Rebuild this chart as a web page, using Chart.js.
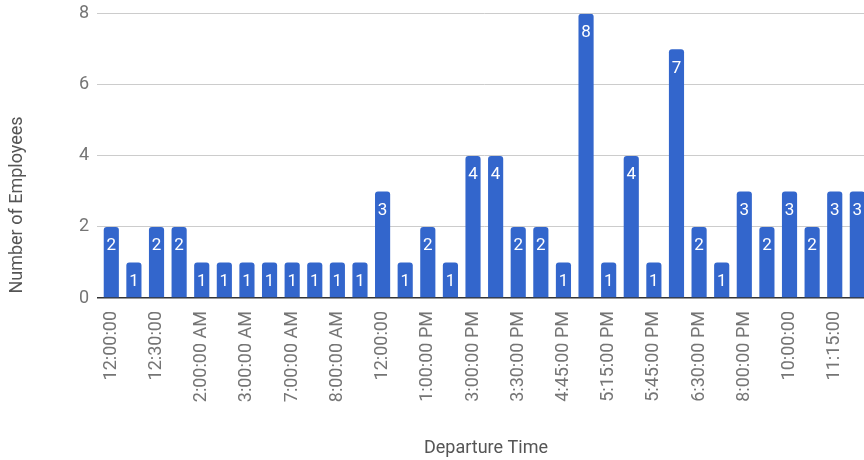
<!DOCTYPE html>
<html>
<head>
<meta charset="utf-8">
<script src="https://cdn.jsdelivr.net/npm/chart.js@4/dist/chart.umd.min.js"></script>
<style>
  html, body { margin: 0; padding: 0; background: #fff; overflow: hidden; }
  #wrap { width: 884px; height: 465px; position: relative; margin-top: -5px; }
</style>
</head>
<body>
<div id="wrap"><canvas id="chart"></canvas></div>
<script>
// Departure times (every other category carries a visible label)
const departureTimes = [
  '12:00:00', '', '12:30:00', '', '2:00:00 AM', '', '3:00:00 AM', '',
  '7:00:00 AM', '', '8:00:00 AM', '', '12:00:00', '', '1:00:00 PM', '',
  '3:00:00 PM', '', '3:30:00 PM', '', '4:45:00 PM', '', '5:15:00 PM', '',
  '5:45:00 PM', '', '6:30:00 PM', '', '8:00:00 PM', '', '10:00:00', '',
  '11:15:00', ''
];

// Number of employees leaving at each time
const employeeCounts = [
  2, 1, 2, 2, 1, 1, 1, 1, 1, 1, 1, 1, 3, 1, 2, 1, 4,
  4, 2, 2, 1, 8, 1, 4, 1, 7, 2, 1, 3, 2, 3, 2, 3, 3
];

const yTicks = [0, 2, 4, 6, 8];

const FONT = 'Roboto, "Noto Sans", sans-serif';

// White value labels near the top of each bar
const valueLabels = {
  id: 'valueLabels',
  afterDatasetsDraw(chart) {
    const ctx = chart.ctx;
    const meta = chart.getDatasetMeta(0);
    ctx.save();
    ctx.fillStyle = '#ffffff';
    ctx.font = '17px ' + FONT;
    ctx.textAlign = 'center';
    ctx.textBaseline = 'middle';
    meta.data.forEach((bar, i) => {
      ctx.fillText(String(chart.data.datasets[0].data[i]), bar.x, bar.y + 19);
    });
    ctx.restore();
  }
};

// Axis titles (canvas is shifted up by 5px, hence +5 on y)
const axisTitles = {
  id: 'axisTitles',
  afterDraw(chart) {
    const ctx = chart.ctx;
    ctx.save();
    ctx.fillStyle = '#555555';
    ctx.font = '18px ' + FONT;
    ctx.textAlign = 'center';
    ctx.textBaseline = 'middle';
    ctx.fillText('Departure Time', 486, 453);
    ctx.translate(17, 210);
    ctx.rotate(-Math.PI / 2);
    ctx.fillText('Number of Employees', 0, 0);
    ctx.restore();
  }
};

new Chart(document.getElementById('chart'), {
  type: 'bar',
  data: {
    labels: departureTimes,
    datasets: [{
      data: employeeCounts,
      backgroundColor: '#3366cc',
      borderRadius: { topLeft: 3, topRight: 3, bottomLeft: 0, bottomRight: 0 },
      borderSkipped: 'start',
      barPercentage: 0.67,
      categoryPercentage: 1.0
    }]
  },
  options: {
    responsive: true,
    maintainAspectRatio: false,
    animation: false,
    layout: { padding: { top: 8, right: 4, left: 0, bottom: 0 } },
    plugins: {
      legend: { display: false },
      tooltip: { enabled: false }
    },
    scales: {
      x: {
        grid: { display: false },
        border: { display: false },
        ticks: {
          autoSkip: false,
          minRotation: 90,
          maxRotation: 90,
          padding: 5,
          color: '#757575',
          font: { family: FONT, size: 18 },
          callback: (v, i) => departureTimes[i]
        },
        afterFit: s => { s.height = 162; }
      },
      y: {
        min: 0,
        max: 8,
        afterBuildTicks: s => { s.ticks = yTicks.map(v => ({ value: v })); },
        grid: {
          color: c => (c.tick && c.tick.value === 0) ? '#333333' : '#cccccc',
          lineWidth: c => (c.tick && c.tick.value === 0) ? 1.5 : 1,
          tickLength: 3,
          tickColor: c => (c.tick && c.tick.value === 0) ? '#333333' : '#cccccc'
        },
        border: { display: false },
        ticks: {
          padding: 8,
          color: '#757575',
          font: { family: FONT, size: 18 }
        },
        afterFit: s => { s.width = 100; }
      }
    }
  },
  plugins: [valueLabels, axisTitles]
});
</script>
</body>
</html>
